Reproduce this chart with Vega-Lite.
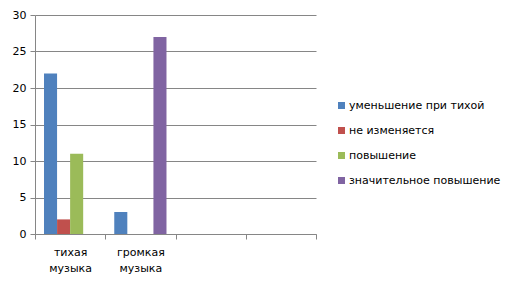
{
  "$schema": "https://vega.github.io/schema/vega-lite/v6.json",
  "autosize": "none",
  "width": 281,
  "height": 219,
  "padding": {"left": 35, "top": 15, "right": 193, "bottom": 50},
  "background": "white",
  "data": {
    "values": [
      {"cat": "тихая музыка", "series": "уменьшение  при тихой", "value": 22},
      {"cat": "тихая музыка", "series": "не изменяется", "value": 2},
      {"cat": "тихая музыка", "series": "повышение", "value": 11},
      {"cat": "тихая музыка", "series": "значительное повышение", "value": 0},
      {"cat": "громкая музыка", "series": "уменьшение  при тихой", "value": 3},
      {"cat": "громкая музыка", "series": "не изменяется", "value": 0},
      {"cat": "громкая музыка", "series": "повышение", "value": 0},
      {"cat": "громкая музыка", "series": "значительное повышение", "value": 27}
    ]
  },
  "mark": {"type": "bar"},
  "encoding": {
    "x": {
      "field": "cat",
      "type": "nominal",
      "scale": {"domain": ["тихая музыка", "громкая музыка", "c3", "c4"], "paddingInner": 0, "paddingOuter": 0},
      "axis": {
        "title": null,
        "labelAngle": 0,
        "tickBand": "extent",
        "labelExpr": "datum.value == 'тихая музыка' || datum.value == 'громкая музыка' ? split(datum.value, ' ') : ''",
        "labelFont": "DejaVu Sans",
        "labelFontSize": 11,
        "labelColor": "#000000",
        "labelPadding": 7,
        "labelLineHeight": 16,
        "labelBaseline": "top",
        "domainColor": "#868686",
        "tickColor": "#868686",
        "tickSize": 5
      }
    },
    "xOffset": {
      "field": "series",
      "type": "nominal",
      "sort": ["уменьшение  при тихой", "не изменяется", "повышение", "значительное повышение"],
      "scale": {"paddingInner": 0, "paddingOuter": 0.69}
    },
    "y": {
      "field": "value",
      "type": "quantitative",
      "scale": {"domain": [0, 30], "nice": false},
      "axis": {
        "title": null,
        "values": [0, 5, 10, 15, 20, 25, 30],
        "labelFont": "DejaVu Sans",
        "labelFontSize": 11,
        "labelColor": "#000000",
        "labelPadding": 4,
        "domainColor": "#868686",
        "tickColor": "#868686",
        "tickSize": 5,
        "gridColor": "#868686",
        "grid": true
      }
    },
    "color": {
      "field": "series",
      "type": "nominal",
      "sort": ["уменьшение  при тихой", "не изменяется", "повышение", "значительное повышение"],
      "scale": {"range": ["#4F81BD", "#C0504D", "#9BBB59", "#8064A2"]},
      "legend": {
        "title": null,
        "orient": "none",
        "legendX": 301,
        "legendY": 85,
        "symbolType": "square",
        "symbolSize": 49,
        "symbolStrokeWidth": 0,
        "labelFont": "DejaVu Sans",
        "labelFontSize": 11,
        "labelColor": "#000000",
        "labelOffset": 2,
        "rowPadding": 13,
        "labelLimit": 300
      }
    }
  },
  "config": {
    "view": {"stroke": null}
  }
}
